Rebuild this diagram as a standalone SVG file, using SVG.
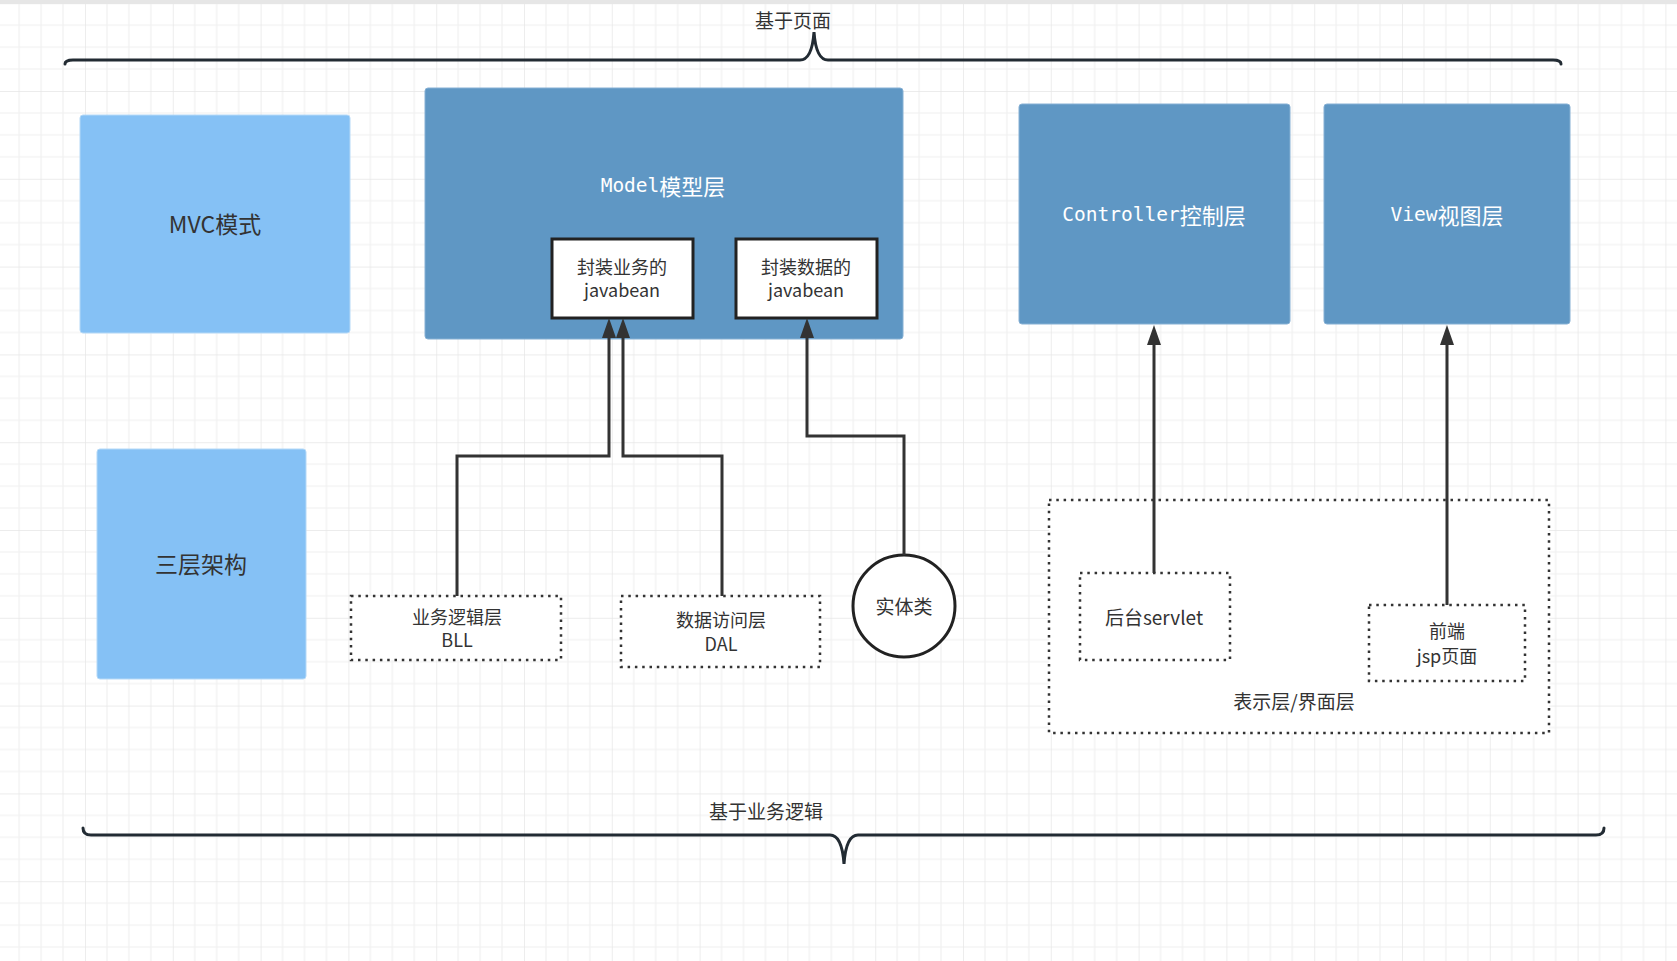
<svg xmlns="http://www.w3.org/2000/svg" width="1677" height="961" viewBox="0 0 1677 961">
  <defs>
    <pattern id="grid" x="85" y="91" width="87.8" height="87.8" patternUnits="userSpaceOnUse">
      <path d="M21.95,0 V87.8 M43.9,0 V87.8 M65.85,0 V87.8 M0,21.95 H87.8 M0,43.9 H87.8 M0,65.85 H87.8" stroke="#f0f0f0" stroke-width="1.2" fill="none"/>
      <path d="M0,0 V87.8 M0,0 H87.8" stroke="#e6e6e6" stroke-width="1.4" fill="none"/>
    </pattern>
    <marker id="arr" markerUnits="userSpaceOnUse" markerWidth="20" markerHeight="14" viewBox="0 0 20 14" refX="0" refY="7" orient="auto">
      <path d="M0,0 L20,7 L0,14 Z" fill="#333333"/>
    </marker>
    <style>
      .light { fill: #85c1f5; stroke: #b5d9f7; stroke-width: 1; }
      .dark { fill: #5f97c4; stroke: #86b0d4; stroke-width: 1; }
      .inner { fill: #ffffff; stroke: #222222; stroke-width: 3; }
      .dotted { fill: #ffffff; stroke: #333333; stroke-width: 2.5; stroke-dasharray: 2.5 4.8; }
      .conn { fill: none; stroke: #333333; stroke-width: 3; marker-end: url(#arr); }
      .brace { fill: none; stroke: #222b33; stroke-width: 3; stroke-linecap: round; }
      .t { font-family: "Noto Sans CJK SC", "Noto Sans", sans-serif; fill: #333333; text-anchor: middle; dominant-baseline: central; }
      .w { font-family: "Noto Sans CJK SC", sans-serif; fill: #ffffff; text-anchor: middle; dominant-baseline: central; font-size: 22px; }
      .mono { font-family: "DejaVu Sans Mono", "Liberation Mono", monospace; font-size: 19.5px; }
    </style>
  </defs>

  <rect x="0" y="0" width="1677" height="961" fill="#ffffff"/>
  <rect x="0" y="0" width="1677" height="961" fill="url(#grid)"/>
  <rect x="0" y="0" width="1677" height="4" fill="#e6e6e6"/>

  <g id="brace-top">
    <path class="brace" d="M65,64 Q65,60 73,60 L800,60 Q812,60 814,32 Q816,60 828,60 L1553,60 Q1561,60 1561,64"/>
    <text class="t" x="793" y="19" font-size="19">基于页面</text>
  </g>

  <g id="brace-bottom">
    <path class="brace" d="M83,828 Q83,835 91,835 L830,835 Q842,835 844,864 Q846,835 858,835 L1596,835 Q1604,835 1604,828"/>
    <text class="t" x="766" y="810" font-size="19">基于业务逻辑</text>
  </g>

  <g id="mvc">
    <rect class="light" x="80" y="115" width="270" height="218" rx="3"/>
    <text class="t" x="215" y="223" font-size="23">MVC模式</text>
  </g>

  <g id="three-tier">
    <rect class="light" x="97" y="449" width="209" height="230" rx="3"/>
    <text class="t" x="201" y="563" font-size="23">三层架构</text>
  </g>

  <g id="model">
    <rect class="dark" x="425" y="88" width="478" height="251" rx="3"/>
    <text class="w" x="663" y="185"><tspan class="mono">Model</tspan>模型层</text>
  </g>

  <g id="bean-business">
    <rect class="inner" x="552" y="239" width="141" height="79"/>
    <text class="t" x="622" y="266" font-size="18">封装业务的</text>
    <text class="t" x="622" y="289" font-size="18">javabean</text>
  </g>

  <g id="bean-data">
    <rect class="inner" x="736" y="239" width="141" height="79"/>
    <text class="t" x="806" y="266" font-size="18">封装数据的</text>
    <text class="t" x="806" y="289" font-size="18">javabean</text>
  </g>

  <g id="controller">
    <rect class="dark" x="1019" y="104" width="271" height="220" rx="3"/>
    <text class="w" x="1154" y="214"><tspan class="mono">Controller</tspan>控制层</text>
  </g>

  <g id="view">
    <rect class="dark" x="1324" y="104" width="246" height="220" rx="3"/>
    <text class="w" x="1447" y="214"><tspan class="mono">View</tspan>视图层</text>
  </g>

  <g id="bll">
    <rect class="dotted" x="351" y="596" width="210" height="64"/>
    <text class="t" x="457" y="616" font-size="18">业务逻辑层</text>
    <text class="t" x="457" y="639" font-size="18">BLL</text>
  </g>

  <g id="dal">
    <rect class="dotted" x="621" y="596" width="199" height="71"/>
    <text class="t" x="721" y="619" font-size="18">数据访问层</text>
    <text class="t" x="721" y="643" font-size="18">DAL</text>
  </g>

  <g id="entity">
    <circle cx="904" cy="606" r="51" fill="#ffffff" stroke="#222222" stroke-width="3"/>
    <text class="t" x="904" y="605" font-size="19">实体类</text>
  </g>

  <g id="presentation">
    <rect class="dotted" x="1049" y="500" width="500" height="233"/>
    <text class="t" x="1294" y="700" font-size="19">表示层/界面层</text>
  </g>

  <g id="servlet">
    <rect class="dotted" x="1080" y="573" width="150" height="87"/>
    <text class="t" x="1154" y="616" font-size="19">后台servlet</text>
  </g>

  <g id="jsp">
    <rect class="dotted" x="1369" y="605" width="156" height="76"/>
    <text class="t" x="1447" y="630" font-size="18">前端</text>
    <text class="t" x="1447" y="655" font-size="18">jsp页面</text>
  </g>

  <g id="connectors">
    <path class="conn" d="M457,596 V456 H609 V338"/>
    <path class="conn" d="M722,596 V456 H623 V338"/>
    <path class="conn" d="M904,555 V436 H807 V338"/>
    <path class="conn" d="M1154,573 V345"/>
    <path class="conn" d="M1447,605 V345"/>
  </g>
</svg>
